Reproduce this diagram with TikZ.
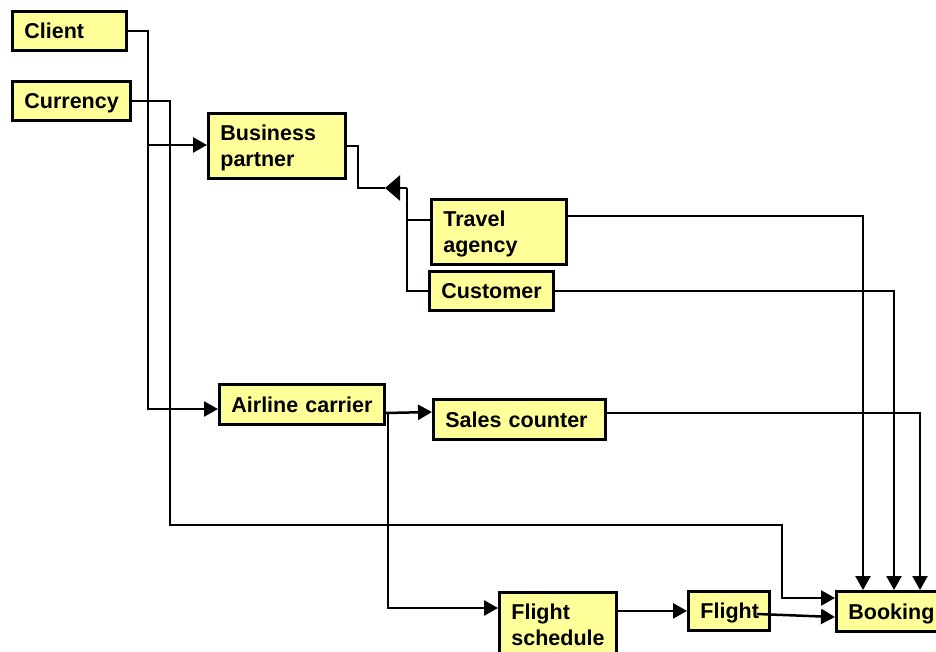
\documentclass[tikz,border=0pt]{standalone}
\usepackage{fontspec}
\setmainfont{Liberation Sans}
\usetikzlibrary{arrows.meta}
\definecolor{boxfill}{HTML}{FFFF99}
\newcommand{\boxstrut}{\vrule width 0pt height 20.4pt depth 5pt\relax}
\begin{document}
\begin{tikzpicture}[x=1pt,y=-1pt,
 box/.style={draw, fill=boxfill, line width=2.8pt, anchor=north west, inner xsep=12pt, inner ysep=0pt, align=left,
   font=\fontsize{21.5}{25.5}\selectfont\bfseries,
   execute at begin node=\boxstrut, execute at end node=\boxstrut},
 conn/.style={line width=2.5pt},
 arr/.style={conn, -{Triangle[length=14pt,width=15pt]}},
]
\useasboundingbox (0,0) rectangle (936,652);
% boxes
\node[box, minimum height=39pt, text width=90pt] (client) at (11,10) {Client};
\node[box, minimum height=39pt, text width=94pt] (currency) at (11,80) {Currency};
\node[box, minimum height=65pt, text width=113pt] (bp) at (207,112) {Business\\partner};
\node[box, minimum height=65pt, text width=111pt] (ta) at (430,198) {Travel\\agency};
\node[box, minimum height=39pt, text width=100pt] (cust) at (428,270) {Customer};
\node[box, minimum height=40pt, text width=141pt] (airline) at (218,383) {\mbox{Airline carrier}};
\node[box, minimum height=40pt, text width=148pt] (sc) at (432,398) {Sales counter};
\node[box, minimum height=65pt, text width=93pt] (fs) at (498,591) {Flight\\schedule};
\node[box, minimum height=39pt, text width=57pt] (flight) at (687,590) {Flight};
\node[box, minimum height=40pt, text width=91pt] (booking) at (835,590) {Booking};
% junction coordinates
\coordinate (cv) at (148,409);
\coordinate (cb) at (148,145);
\coordinate (u1) at (170,525);
\coordinate (u2) at (782,598);
\coordinate (g1) at (358,188);
\coordinate (gt) at (385,188);
\coordinate (g2) at (407,188);
\coordinate (g3) at (407,220);
\coordinate (r1) at (863,216);
\coordinate (r2) at (894,290);
\coordinate (r3) at (920,413);
\coordinate (a1) at (388,413);
\coordinate (a2) at (432,412);
\coordinate (a3) at (388,608);
\coordinate (f1) at (757,614);
\coordinate (f2) at (835,617);
% connectors
\draw[arr] (client.east) -| (cv) -- (cv -| airline.west);
\draw[arr] (cb) -- (cb -| bp.west);
\draw[arr] (currency.east) -| (u1) -| (u2) -- (u2 -| booking.west);
\draw[conn] (bp.east) -| (g1) -- (gt);
\draw[conn, -{Triangle[length=15pt,width=25pt]}] (g2) -- (gt);
\draw[conn] (g2) |- (cust.west);
\draw[conn] (g3) -- (g3 -| ta.west);
\draw[arr] (ta.east |- r1) -| (booking.north -| r1);
\draw[arr] (cust.east) -| (booking.north -| r2);
\draw[arr] (sc.east |- r3) -| (booking.north -| r3);
\draw[arr] (airline.east |- a1) -- (sc.west |- a2);
\draw[arr] (a1) -- (a3) -- (a3 -| fs.west);
\draw[arr] (fs.east |- flight.west) -- (flight.west);
\draw[arr] (f1) -- (f2 -| booking.west);
\end{tikzpicture}
\end{document}
